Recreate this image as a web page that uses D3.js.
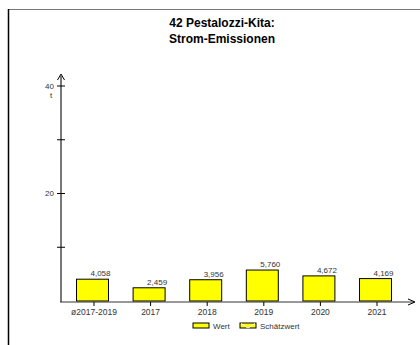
<!DOCTYPE html>
<html><head><meta charset="utf-8">
<script src="https://cdn.jsdelivr.net/npm/d3@7"></script>
<style>body{margin:0;background:#fff}svg{display:block}text{font-family:"Liberation Sans",Arial,sans-serif}</style>
</head><body><svg id="c" width="420" height="345"></svg>
<script>
const categories = ["ø2017-2019","2017","2018","2019","2020","2021"];
const values = [4.058, 2.459, 3.956, 5.760, 4.672, 4.169];
const valueLabels = ["4,058","2,459","3,956","5,760","4,672","4,169"];
const yTicks = [0, 10, 20, 30, 40];
const yTickLabels = {20:"20", 40:"40"};
const titleLines = ["42 Pestalozzi-Kita:", "Strom-Emissionen"];
const legendItems = ["Wert", "Schätzwert"];

const svg = d3.select("#c");
const x0 = 61, yBase = 301;
const y = d3.scaleLinear().domain([0, 40]).range([yBase, 86]);
const x = d3.scaleBand().domain(categories).range([61, 407]).paddingInner(0.435).paddingOuter(0.274);

// frame
svg.append("line").attr("x1",8).attr("x2",420).attr("y1",9.5).attr("y2",9.5).attr("stroke","#777").attr("stroke-width",1);
svg.append("line").attr("x1",8.5).attr("x2",8.5).attr("y1",9).attr("y2",345).attr("stroke","#000").attr("stroke-width",1.5);

// title
svg.append("g").selectAll("text").data(titleLines).join("text")
  .attr("x",222).attr("y",(d,i)=>27+i*16).attr("text-anchor","middle")
  .attr("font-size",12).attr("font-weight","bold").attr("fill","#000").text(d=>d);

// bars
svg.append("g").selectAll("rect").data(values).join("rect")
  .attr("x",(d,i)=>x(categories[i])).attr("width",x.bandwidth())
  .attr("y",d=>y(d)).attr("height",d=>yBase-y(d))
  .attr("fill","#ffff00").attr("stroke","#000").attr("stroke-width",1);

svg.append("g").selectAll("text").data(values).join("text")
  .attr("x",(d,i)=>x(categories[i])+x.bandwidth()/2+8).attr("y",d=>y(d)-3)
  .attr("text-anchor","middle").attr("font-size",8).attr("fill","#333").text((d,i)=>valueLabels[i]);

// y axis
svg.append("line").attr("x1",x0).attr("x2",x0).attr("y1",yBase+1).attr("y2",76).attr("stroke","#777").attr("stroke-width",2);
svg.append("path").attr("d",`M${x0-3.5},${80} L${x0},${74} L${x0+3.5},${80}`).attr("fill","none").attr("stroke","#000").attr("stroke-width",1);
svg.append("g").selectAll("line").data(yTicks.filter(d=>d>0)).join("line")
  .attr("x1",x0-4).attr("x2",x0+4).attr("y1",d=>y(d)).attr("y2",d=>y(d)).attr("stroke","#000").attr("stroke-width",1);
svg.append("g").selectAll("text").data(yTicks.filter(d=>yTickLabels[d])).join("text")
  .attr("x",x0-7).attr("y",d=>y(d)+2.5).attr("text-anchor","end").attr("font-size",8).attr("fill","#333").text(d=>yTickLabels[d]);
svg.append("text").attr("x",x0-10).attr("y",y(40)+11.5).attr("text-anchor","middle").attr("font-size",8).attr("fill","#333").text("t");

// x axis
svg.append("line").attr("x1",x0-1).attr("x2",414).attr("y1",yBase+1).attr("y2",yBase+1).attr("stroke","#333").attr("stroke-width",1);
svg.append("path").attr("d",`M408,${yBase-2} L415,${yBase+1} L408,${yBase+4}`).attr("fill","none").attr("stroke","#000").attr("stroke-width",1);
svg.append("g").selectAll("line").data(categories).join("line")
  .attr("x1",d=>x(d)+x.bandwidth()/2+1.5).attr("x2",d=>x(d)+x.bandwidth()/2+1.5)
  .attr("y1",yBase+1).attr("y2",yBase+5).attr("stroke","#000");
svg.append("g").selectAll("text").data(categories).join("text")
  .attr("x",d=>x(d)+x.bandwidth()/2+1.5).attr("y",yBase+14).attr("text-anchor","middle")
  .attr("font-size",8.5).attr("fill","#333").text(d=>d);

// legend
const lg = svg.append("g");
const lx = [193, 240];
lg.selectAll("rect").data(legendItems).join("rect")
  .attr("x",(d,i)=>lx[i]).attr("y",323).attr("width",16).attr("height",5)
  .attr("fill","#ffff00").attr("stroke","#000").attr("stroke-width",1);
lg.append("path").attr("d",`M${lx[1]+1},323.5 L${lx[1]+8},328 L${lx[1]+15},323.5`).attr("fill","none").attr("stroke","#fff").attr("stroke-width",1);
lg.selectAll("text").data(legendItems).join("text")
  .attr("x",(d,i)=>lx[i]+20).attr("y",328.5).attr("font-size",8).attr("fill","#333").text(d=>d);
</script></body></html>
